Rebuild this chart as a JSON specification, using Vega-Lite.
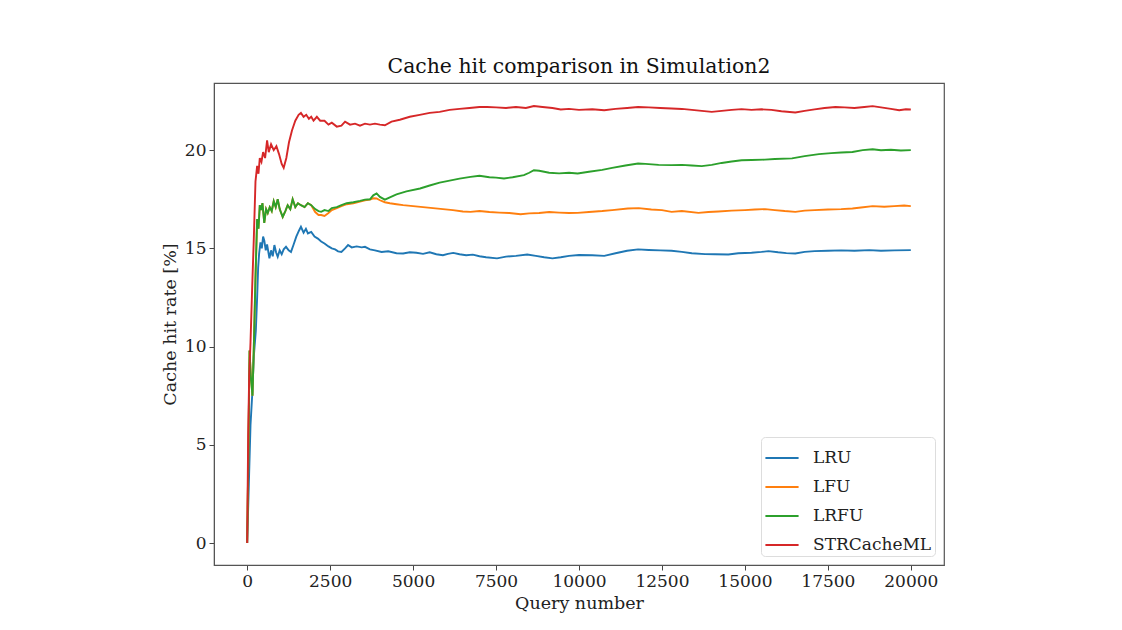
{
  "$schema": "https://vega.github.io/schema/vega-lite/v6.json",
  "width": 730,
  "height": 482,
  "autosize": {"type": "none"},
  "padding": {"left": 214, "top": 83, "right": 178, "bottom": 65},
  "background": "white",
  "config": {
    "font": "DejaVu Serif",
    "view": {"stroke": "#555", "strokeWidth": 1.2},
    "axis": {
      "labelFont": "DejaVu Serif", "titleFont": "DejaVu Serif",
      "labelFontSize": 17, "titleFontSize": 17.5, "titleFontWeight": "normal",
      "labelColor": "#222", "titleColor": "#222",
      "grid": false, "tickSize": 5, "tickColor": "#444", "domainColor": "#555",
      "tickWidth": 1, "labelPadding": 3
    },
    "title": {"font": "DejaVu Serif", "fontSize": 20.4, "fontWeight": "normal", "color": "#111"}
  },
  "title": {"text": "Cache hit comparison in Simulation2", "offset": 6, "anchor": "middle"},
  "data": {
    "values": [
      {"q":0,"s":"LRU","v":0},{"q":50,"s":"LRU","v":3},{"q":100,"s":"LRU","v":6},{"q":150,"s":"LRU","v":7.5},{"q":200,"s":"LRU","v":9.5},{"q":260,"s":"LRU","v":10.8},{"q":300,"s":"LRU","v":12.5},{"q":330,"s":"LRU","v":14.0},{"q":360,"s":"LRU","v":14.74},{"q":400,"s":"LRU","v":15.3},{"q":440,"s":"LRU","v":15.0},{"q":480,"s":"LRU","v":15.6},{"q":515,"s":"LRU","v":15.4},{"q":560,"s":"LRU","v":14.9},{"q":600,"s":"LRU","v":15.2},{"q":670,"s":"LRU","v":14.49},{"q":720,"s":"LRU","v":14.9},{"q":770,"s":"LRU","v":14.6},{"q":820,"s":"LRU","v":15.17},{"q":870,"s":"LRU","v":14.8},{"q":920,"s":"LRU","v":14.57},{"q":980,"s":"LRU","v":14.9},{"q":1040,"s":"LRU","v":14.7},{"q":1100,"s":"LRU","v":14.95},{"q":1170,"s":"LRU","v":15.08},{"q":1250,"s":"LRU","v":14.9},{"q":1320,"s":"LRU","v":14.82},{"q":1400,"s":"LRU","v":15.2},{"q":1480,"s":"LRU","v":15.6},{"q":1560,"s":"LRU","v":15.9},{"q":1620,"s":"LRU","v":16.1},{"q":1700,"s":"LRU","v":15.8},{"q":1770,"s":"LRU","v":16.0},{"q":1830,"s":"LRU","v":15.76},{"q":1930,"s":"LRU","v":15.84},{"q":2030,"s":"LRU","v":15.6},{"q":2130,"s":"LRU","v":15.5},{"q":2230,"s":"LRU","v":15.35},{"q":2330,"s":"LRU","v":15.25},{"q":2450,"s":"LRU","v":15.1},{"q":2550,"s":"LRU","v":15.0},{"q":2650,"s":"LRU","v":14.95},{"q":2740,"s":"LRU","v":14.85},{"q":2840,"s":"LRU","v":14.82},{"q":2950,"s":"LRU","v":15.0},{"q":3040,"s":"LRU","v":15.17},{"q":3150,"s":"LRU","v":15.05},{"q":3300,"s":"LRU","v":15.1},{"q":3450,"s":"LRU","v":15.05},{"q":3550,"s":"LRU","v":15.08},{"q":3700,"s":"LRU","v":14.95},{"q":3850,"s":"LRU","v":14.9},{"q":4050,"s":"LRU","v":14.82},{"q":4250,"s":"LRU","v":14.85},{"q":4500,"s":"LRU","v":14.75},{"q":4700,"s":"LRU","v":14.74},{"q":4900,"s":"LRU","v":14.8},{"q":5100,"s":"LRU","v":14.78},{"q":5300,"s":"LRU","v":14.72},{"q":5500,"s":"LRU","v":14.8},{"q":5700,"s":"LRU","v":14.7},{"q":5900,"s":"LRU","v":14.65},{"q":6050,"s":"LRU","v":14.72},{"q":6210,"s":"LRU","v":14.77},{"q":6400,"s":"LRU","v":14.7},{"q":6600,"s":"LRU","v":14.65},{"q":6800,"s":"LRU","v":14.68},{"q":7000,"s":"LRU","v":14.6},{"q":7200,"s":"LRU","v":14.55},{"q":7530,"s":"LRU","v":14.49},{"q":7800,"s":"LRU","v":14.58},{"q":8100,"s":"LRU","v":14.62},{"q":8440,"s":"LRU","v":14.69},{"q":8700,"s":"LRU","v":14.62},{"q":8950,"s":"LRU","v":14.55},{"q":9200,"s":"LRU","v":14.49},{"q":9450,"s":"LRU","v":14.55},{"q":9700,"s":"LRU","v":14.62},{"q":10000,"s":"LRU","v":14.66},{"q":10400,"s":"LRU","v":14.65},{"q":10760,"s":"LRU","v":14.62},{"q":11100,"s":"LRU","v":14.75},{"q":11450,"s":"LRU","v":14.88},{"q":11780,"s":"LRU","v":14.95},{"q":12100,"s":"LRU","v":14.92},{"q":12450,"s":"LRU","v":14.9},{"q":12790,"s":"LRU","v":14.88},{"q":13100,"s":"LRU","v":14.82},{"q":13400,"s":"LRU","v":14.75},{"q":13800,"s":"LRU","v":14.71},{"q":14100,"s":"LRU","v":14.7},{"q":14500,"s":"LRU","v":14.69},{"q":14800,"s":"LRU","v":14.75},{"q":15200,"s":"LRU","v":14.78},{"q":15500,"s":"LRU","v":14.82},{"q":15710,"s":"LRU","v":14.86},{"q":16000,"s":"LRU","v":14.8},{"q":16250,"s":"LRU","v":14.76},{"q":16520,"s":"LRU","v":14.74},{"q":16800,"s":"LRU","v":14.82},{"q":17100,"s":"LRU","v":14.86},{"q":17500,"s":"LRU","v":14.88},{"q":17900,"s":"LRU","v":14.9},{"q":18300,"s":"LRU","v":14.88},{"q":18750,"s":"LRU","v":14.91},{"q":19100,"s":"LRU","v":14.88},{"q":19500,"s":"LRU","v":14.9},{"q":20000,"s":"LRU","v":14.91},

      {"q":0,"s":"LFU","v":0},{"q":40,"s":"LFU","v":5},{"q":70,"s":"LFU","v":9.8},{"q":110,"s":"LFU","v":8.5},{"q":160,"s":"LFU","v":7.5},{"q":200,"s":"LFU","v":10},{"q":250,"s":"LFU","v":13.5},{"q":300,"s":"LFU","v":16.5},{"q":340,"s":"LFU","v":16.0},{"q":380,"s":"LFU","v":17.2},{"q":415,"s":"LFU","v":16.95},{"q":460,"s":"LFU","v":17.3},{"q":515,"s":"LFU","v":16.3},{"q":570,"s":"LFU","v":17.0},{"q":620,"s":"LFU","v":16.8},{"q":680,"s":"LFU","v":17.1},{"q":740,"s":"LFU","v":16.9},{"q":800,"s":"LFU","v":17.4},{"q":860,"s":"LFU","v":17.1},{"q":920,"s":"LFU","v":17.5},{"q":980,"s":"LFU","v":17.0},{"q":1070,"s":"LFU","v":16.6},{"q":1150,"s":"LFU","v":16.9},{"q":1220,"s":"LFU","v":17.2},{"q":1300,"s":"LFU","v":17.0},{"q":1370,"s":"LFU","v":17.5},{"q":1450,"s":"LFU","v":17.1},{"q":1530,"s":"LFU","v":17.3},{"q":1620,"s":"LFU","v":17.2},{"q":1730,"s":"LFU","v":17.1},{"q":1830,"s":"LFU","v":17.3},{"q":1930,"s":"LFU","v":17.2},{"q":2050,"s":"LFU","v":16.85},{"q":2150,"s":"LFU","v":16.7},{"q":2230,"s":"LFU","v":16.7},{"q":2330,"s":"LFU","v":16.65},{"q":2450,"s":"LFU","v":16.8},{"q":2550,"s":"LFU","v":16.95},{"q":2700,"s":"LFU","v":17.05},{"q":2840,"s":"LFU","v":17.15},{"q":3000,"s":"LFU","v":17.25},{"q":3200,"s":"LFU","v":17.3},{"q":3400,"s":"LFU","v":17.38},{"q":3550,"s":"LFU","v":17.45},{"q":3700,"s":"LFU","v":17.48},{"q":3800,"s":"LFU","v":17.55},{"q":3900,"s":"LFU","v":17.54},{"q":4000,"s":"LFU","v":17.45},{"q":4150,"s":"LFU","v":17.35},{"q":4300,"s":"LFU","v":17.3},{"q":4500,"s":"LFU","v":17.25},{"q":4700,"s":"LFU","v":17.2},{"q":5000,"s":"LFU","v":17.15},{"q":5300,"s":"LFU","v":17.1},{"q":5600,"s":"LFU","v":17.05},{"q":5900,"s":"LFU","v":17.0},{"q":6200,"s":"LFU","v":16.95},{"q":6500,"s":"LFU","v":16.88},{"q":6730,"s":"LFU","v":16.86},{"q":7000,"s":"LFU","v":16.9},{"q":7300,"s":"LFU","v":16.85},{"q":7600,"s":"LFU","v":16.82},{"q":7900,"s":"LFU","v":16.8},{"q":8240,"s":"LFU","v":16.74},{"q":8500,"s":"LFU","v":16.78},{"q":8800,"s":"LFU","v":16.8},{"q":9100,"s":"LFU","v":16.85},{"q":9400,"s":"LFU","v":16.82},{"q":9700,"s":"LFU","v":16.8},{"q":9960,"s":"LFU","v":16.81},{"q":10300,"s":"LFU","v":16.85},{"q":10700,"s":"LFU","v":16.9},{"q":11000,"s":"LFU","v":16.95},{"q":11470,"s":"LFU","v":17.03},{"q":11800,"s":"LFU","v":17.05},{"q":12180,"s":"LFU","v":16.98},{"q":12500,"s":"LFU","v":16.95},{"q":12790,"s":"LFU","v":16.86},{"q":13100,"s":"LFU","v":16.9},{"q":13600,"s":"LFU","v":16.81},{"q":13900,"s":"LFU","v":16.85},{"q":14200,"s":"LFU","v":16.88},{"q":14600,"s":"LFU","v":16.92},{"q":15000,"s":"LFU","v":16.95},{"q":15300,"s":"LFU","v":16.98},{"q":15610,"s":"LFU","v":17.0},{"q":15900,"s":"LFU","v":16.95},{"q":16200,"s":"LFU","v":16.9},{"q":16520,"s":"LFU","v":16.86},{"q":16800,"s":"LFU","v":16.92},{"q":17100,"s":"LFU","v":16.95},{"q":17500,"s":"LFU","v":16.98},{"q":17900,"s":"LFU","v":17.0},{"q":18240,"s":"LFU","v":17.03},{"q":18500,"s":"LFU","v":17.08},{"q":18850,"s":"LFU","v":17.15},{"q":19200,"s":"LFU","v":17.12},{"q":19500,"s":"LFU","v":17.15},{"q":19800,"s":"LFU","v":17.18},{"q":20000,"s":"LFU","v":17.15},

      {"q":0,"s":"LRFU","v":0},{"q":40,"s":"LRFU","v":5},{"q":70,"s":"LRFU","v":9.8},{"q":110,"s":"LRFU","v":8.5},{"q":160,"s":"LRFU","v":7.5},{"q":200,"s":"LRFU","v":10},{"q":250,"s":"LRFU","v":13.5},{"q":300,"s":"LRFU","v":16.5},{"q":340,"s":"LRFU","v":16.0},{"q":380,"s":"LRFU","v":17.2},{"q":415,"s":"LRFU","v":16.95},{"q":460,"s":"LRFU","v":17.3},{"q":515,"s":"LRFU","v":16.3},{"q":570,"s":"LRFU","v":17.0},{"q":620,"s":"LRFU","v":16.8},{"q":680,"s":"LRFU","v":17.1},{"q":740,"s":"LRFU","v":16.9},{"q":800,"s":"LRFU","v":17.4},{"q":860,"s":"LRFU","v":17.1},{"q":920,"s":"LRFU","v":17.5},{"q":980,"s":"LRFU","v":17.0},{"q":1070,"s":"LRFU","v":16.6},{"q":1150,"s":"LRFU","v":16.9},{"q":1220,"s":"LRFU","v":17.2},{"q":1300,"s":"LRFU","v":17.0},{"q":1370,"s":"LRFU","v":17.5},{"q":1450,"s":"LRFU","v":17.1},{"q":1530,"s":"LRFU","v":17.3},{"q":1620,"s":"LRFU","v":17.2},{"q":1730,"s":"LRFU","v":17.1},{"q":1830,"s":"LRFU","v":17.3},{"q":1930,"s":"LRFU","v":17.2},{"q":2050,"s":"LRFU","v":17.0},{"q":2150,"s":"LRFU","v":16.9},{"q":2230,"s":"LRFU","v":16.86},{"q":2330,"s":"LRFU","v":16.95},{"q":2450,"s":"LRFU","v":16.9},{"q":2550,"s":"LRFU","v":17.05},{"q":2700,"s":"LRFU","v":17.1},{"q":2840,"s":"LRFU","v":17.2},{"q":3000,"s":"LRFU","v":17.3},{"q":3200,"s":"LRFU","v":17.35},{"q":3400,"s":"LRFU","v":17.42},{"q":3550,"s":"LRFU","v":17.48},{"q":3700,"s":"LRFU","v":17.5},{"q":3800,"s":"LRFU","v":17.7},{"q":3900,"s":"LRFU","v":17.8},{"q":4000,"s":"LRFU","v":17.62},{"q":4150,"s":"LRFU","v":17.48},{"q":4300,"s":"LRFU","v":17.6},{"q":4500,"s":"LRFU","v":17.75},{"q":4800,"s":"LRFU","v":17.9},{"q":5210,"s":"LRFU","v":18.05},{"q":5500,"s":"LRFU","v":18.2},{"q":5800,"s":"LRFU","v":18.35},{"q":6100,"s":"LRFU","v":18.45},{"q":6400,"s":"LRFU","v":18.55},{"q":6730,"s":"LRFU","v":18.64},{"q":7000,"s":"LRFU","v":18.7},{"q":7300,"s":"LRFU","v":18.62},{"q":7500,"s":"LRFU","v":18.6},{"q":7740,"s":"LRFU","v":18.56},{"q":8000,"s":"LRFU","v":18.62},{"q":8340,"s":"LRFU","v":18.73},{"q":8500,"s":"LRFU","v":18.85},{"q":8640,"s":"LRFU","v":18.98},{"q":8800,"s":"LRFU","v":18.95},{"q":9100,"s":"LRFU","v":18.85},{"q":9400,"s":"LRFU","v":18.82},{"q":9700,"s":"LRFU","v":18.85},{"q":9960,"s":"LRFU","v":18.81},{"q":10300,"s":"LRFU","v":18.9},{"q":10700,"s":"LRFU","v":19.0},{"q":11000,"s":"LRFU","v":19.1},{"q":11400,"s":"LRFU","v":19.22},{"q":11780,"s":"LRFU","v":19.32},{"q":12000,"s":"LRFU","v":19.3},{"q":12400,"s":"LRFU","v":19.25},{"q":12790,"s":"LRFU","v":19.24},{"q":13100,"s":"LRFU","v":19.25},{"q":13400,"s":"LRFU","v":19.22},{"q":13700,"s":"LRFU","v":19.19},{"q":14000,"s":"LRFU","v":19.25},{"q":14300,"s":"LRFU","v":19.35},{"q":14600,"s":"LRFU","v":19.42},{"q":14900,"s":"LRFU","v":19.49},{"q":15200,"s":"LRFU","v":19.5},{"q":15600,"s":"LRFU","v":19.52},{"q":15900,"s":"LRFU","v":19.55},{"q":16420,"s":"LRFU","v":19.58},{"q":16800,"s":"LRFU","v":19.7},{"q":17230,"s":"LRFU","v":19.8},{"q":17600,"s":"LRFU","v":19.85},{"q":17900,"s":"LRFU","v":19.88},{"q":18240,"s":"LRFU","v":19.91},{"q":18550,"s":"LRFU","v":20.0},{"q":18850,"s":"LRFU","v":20.05},{"q":19100,"s":"LRFU","v":20.0},{"q":19400,"s":"LRFU","v":20.02},{"q":19700,"s":"LRFU","v":19.98},{"q":20000,"s":"LRFU","v":20.0},

      {"q":0,"s":"STRCacheML","v":0},{"q":30,"s":"STRCacheML","v":5.5},{"q":60,"s":"STRCacheML","v":8.5},{"q":100,"s":"STRCacheML","v":10.2},{"q":150,"s":"STRCacheML","v":13},{"q":200,"s":"STRCacheML","v":15.5},{"q":250,"s":"STRCacheML","v":18.4},{"q":300,"s":"STRCacheML","v":19.2},{"q":340,"s":"STRCacheML","v":18.8},{"q":380,"s":"STRCacheML","v":19.6},{"q":430,"s":"STRCacheML","v":19.4},{"q":480,"s":"STRCacheML","v":19.9},{"q":540,"s":"STRCacheML","v":19.6},{"q":600,"s":"STRCacheML","v":20.5},{"q":650,"s":"STRCacheML","v":19.9},{"q":720,"s":"STRCacheML","v":20.3},{"q":800,"s":"STRCacheML","v":20.0},{"q":880,"s":"STRCacheML","v":20.2},{"q":960,"s":"STRCacheML","v":19.8},{"q":1040,"s":"STRCacheML","v":19.3},{"q":1100,"s":"STRCacheML","v":19.1},{"q":1180,"s":"STRCacheML","v":19.6},{"q":1260,"s":"STRCacheML","v":20.4},{"q":1350,"s":"STRCacheML","v":21.0},{"q":1450,"s":"STRCacheML","v":21.5},{"q":1550,"s":"STRCacheML","v":21.8},{"q":1620,"s":"STRCacheML","v":21.9},{"q":1700,"s":"STRCacheML","v":21.7},{"q":1780,"s":"STRCacheML","v":21.8},{"q":1860,"s":"STRCacheML","v":21.6},{"q":1930,"s":"STRCacheML","v":21.7},{"q":2000,"s":"STRCacheML","v":21.5},{"q":2100,"s":"STRCacheML","v":21.7},{"q":2200,"s":"STRCacheML","v":21.5},{"q":2330,"s":"STRCacheML","v":21.5},{"q":2450,"s":"STRCacheML","v":21.3},{"q":2550,"s":"STRCacheML","v":21.4},{"q":2700,"s":"STRCacheML","v":21.2},{"q":2840,"s":"STRCacheML","v":21.25},{"q":2950,"s":"STRCacheML","v":21.45},{"q":3100,"s":"STRCacheML","v":21.3},{"q":3250,"s":"STRCacheML","v":21.35},{"q":3400,"s":"STRCacheML","v":21.25},{"q":3550,"s":"STRCacheML","v":21.35},{"q":3700,"s":"STRCacheML","v":21.3},{"q":3850,"s":"STRCacheML","v":21.35},{"q":4000,"s":"STRCacheML","v":21.3},{"q":4150,"s":"STRCacheML","v":21.27},{"q":4350,"s":"STRCacheML","v":21.45},{"q":4600,"s":"STRCacheML","v":21.55},{"q":4900,"s":"STRCacheML","v":21.7},{"q":5200,"s":"STRCacheML","v":21.8},{"q":5500,"s":"STRCacheML","v":21.9},{"q":5800,"s":"STRCacheML","v":21.95},{"q":6100,"s":"STRCacheML","v":22.05},{"q":6400,"s":"STRCacheML","v":22.1},{"q":6700,"s":"STRCacheML","v":22.15},{"q":7000,"s":"STRCacheML","v":22.2},{"q":7230,"s":"STRCacheML","v":22.2},{"q":7500,"s":"STRCacheML","v":22.18},{"q":7800,"s":"STRCacheML","v":22.15},{"q":8100,"s":"STRCacheML","v":22.2},{"q":8400,"s":"STRCacheML","v":22.15},{"q":8640,"s":"STRCacheML","v":22.25},{"q":8900,"s":"STRCacheML","v":22.2},{"q":9200,"s":"STRCacheML","v":22.15},{"q":9450,"s":"STRCacheML","v":22.07},{"q":9700,"s":"STRCacheML","v":22.1},{"q":10000,"s":"STRCacheML","v":22.05},{"q":10400,"s":"STRCacheML","v":22.08},{"q":10760,"s":"STRCacheML","v":22.03},{"q":11100,"s":"STRCacheML","v":22.1},{"q":11450,"s":"STRCacheML","v":22.15},{"q":11780,"s":"STRCacheML","v":22.2},{"q":12100,"s":"STRCacheML","v":22.18},{"q":12450,"s":"STRCacheML","v":22.15},{"q":12790,"s":"STRCacheML","v":22.12},{"q":13100,"s":"STRCacheML","v":22.1},{"q":13400,"s":"STRCacheML","v":22.05},{"q":13700,"s":"STRCacheML","v":22.0},{"q":14000,"s":"STRCacheML","v":21.95},{"q":14300,"s":"STRCacheML","v":22.0},{"q":14600,"s":"STRCacheML","v":22.05},{"q":14900,"s":"STRCacheML","v":22.09},{"q":15200,"s":"STRCacheML","v":22.05},{"q":15500,"s":"STRCacheML","v":22.08},{"q":15800,"s":"STRCacheML","v":22.05},{"q":16100,"s":"STRCacheML","v":21.98},{"q":16520,"s":"STRCacheML","v":21.92},{"q":16800,"s":"STRCacheML","v":22.0},{"q":17100,"s":"STRCacheML","v":22.08},{"q":17400,"s":"STRCacheML","v":22.15},{"q":17730,"s":"STRCacheML","v":22.2},{"q":18000,"s":"STRCacheML","v":22.18},{"q":18300,"s":"STRCacheML","v":22.15},{"q":18600,"s":"STRCacheML","v":22.2},{"q":18850,"s":"STRCacheML","v":22.24},{"q":19100,"s":"STRCacheML","v":22.18},{"q":19400,"s":"STRCacheML","v":22.1},{"q":19650,"s":"STRCacheML","v":22.03},{"q":19850,"s":"STRCacheML","v":22.08},{"q":20000,"s":"STRCacheML","v":22.07}
    ]
  },
  "mark": {"type": "line", "strokeWidth": 1.9, "interpolate": "linear"},
  "encoding": {
    "x": {
      "field": "q", "type": "quantitative", "title": "Query number",
      "scale": {"domain": [-1000, 21000], "nice": false, "zero": false},
      "axis": {"values": [0, 2500, 5000, 7500, 10000, 12500, 15000, 17500, 20000], "format": "d", "titlePadding": 5, "labelFlush": false}
    },
    "y": {
      "field": "v", "type": "quantitative", "title": "Cache hit rate [%]",
      "scale": {"domain": [-1.12, 23.42], "nice": false, "zero": false},
      "axis": {"values": [0, 5, 10, 15, 20], "titlePadding": 5}
    },
    "color": {
      "field": "s", "type": "nominal",
      "scale": {"domain": ["LRU", "LFU", "LRFU", "STRCacheML"], "range": ["#1f77b4", "#ff7f0e", "#2ca02c", "#d62728"]},
      "legend": {
        "title": null, "orient": "bottom-right", "offset": 9,
        "symbolType": "stroke", "symbolSize": 1100, "symbolStrokeWidth": 2,
        "labelFont": "DejaVu Serif", "labelFontSize": 17, "labelColor": "#222",
        "strokeColor": "#ddd", "cornerRadius": 4, "fillColor": "white",
        "padding": 3, "rowPadding": 3, "labelOffset": 13
      }
    },
    "order": {"field": "q", "type": "quantitative"}
  }
}
